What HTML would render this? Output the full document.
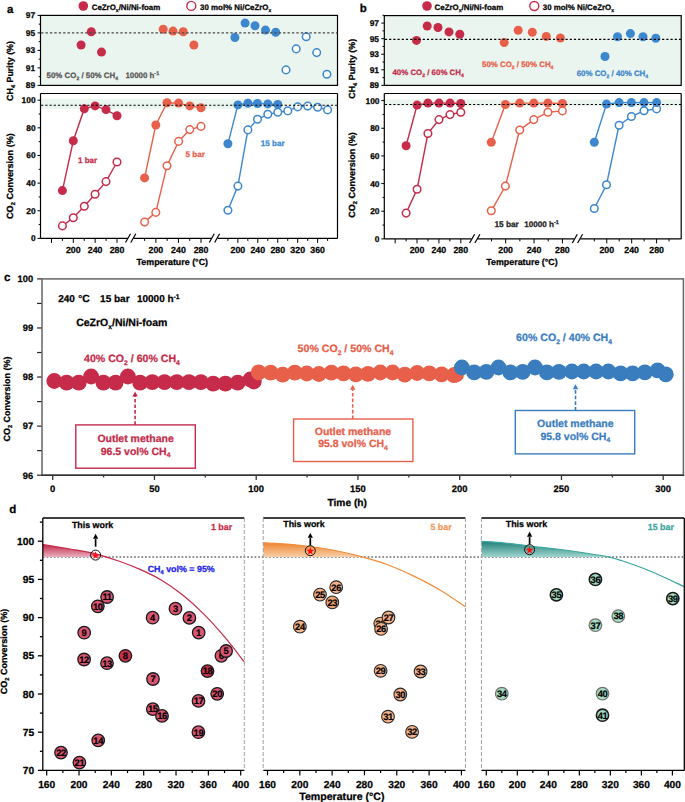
<!DOCTYPE html><html><head><meta charset="utf-8"><style>html,body{margin:0;padding:0;background:#fff;}svg{display:block;}</style></head><body>
<svg width="685" height="802" viewBox="0 0 685 802" font-family="Liberation Sans, sans-serif" font-weight="bold" text-rendering="geometricPrecision">
<rect width="685" height="802" fill="#fff"/>
<rect x="40.5" y="15.4" width="297.0" height="70.0" fill="#ebf5ef"/>
<rect x="40.5" y="98.8" width="297.0" height="10" fill="#ebf5ef"/>
<line x1="37.50" y1="85.40" x2="40.50" y2="85.40" stroke="#000" stroke-width="1" />
<text x="35.10" y="88.40" font-size="8.4" fill="#000" stroke="#000" stroke-width="0.25" text-anchor="end" >89</text>
<line x1="38.70" y1="76.65" x2="40.50" y2="76.65" stroke="#000" stroke-width="1" />
<line x1="37.50" y1="67.90" x2="40.50" y2="67.90" stroke="#000" stroke-width="1" />
<text x="35.10" y="70.90" font-size="8.4" fill="#000" stroke="#000" stroke-width="0.25" text-anchor="end" >91</text>
<line x1="38.70" y1="59.15" x2="40.50" y2="59.15" stroke="#000" stroke-width="1" />
<line x1="37.50" y1="50.40" x2="40.50" y2="50.40" stroke="#000" stroke-width="1" />
<text x="35.10" y="53.40" font-size="8.4" fill="#000" stroke="#000" stroke-width="0.25" text-anchor="end" >93</text>
<line x1="38.70" y1="41.65" x2="40.50" y2="41.65" stroke="#000" stroke-width="1" />
<line x1="37.50" y1="32.90" x2="40.50" y2="32.90" stroke="#000" stroke-width="1" />
<text x="35.10" y="35.90" font-size="8.4" fill="#000" stroke="#000" stroke-width="0.25" text-anchor="end" >95</text>
<line x1="38.70" y1="24.15" x2="40.50" y2="24.15" stroke="#000" stroke-width="1" />
<line x1="37.50" y1="15.40" x2="40.50" y2="15.40" stroke="#000" stroke-width="1" />
<text x="35.10" y="18.40" font-size="8.4" fill="#000" stroke="#000" stroke-width="0.25" text-anchor="end" >97</text>
<line x1="37.50" y1="238.40" x2="40.50" y2="238.40" stroke="#000" stroke-width="1" />
<text x="35.60" y="241.40" font-size="8.4" fill="#000" stroke="#000" stroke-width="0.25" text-anchor="end" >0</text>
<line x1="38.70" y1="224.58" x2="40.50" y2="224.58" stroke="#000" stroke-width="1" />
<line x1="37.50" y1="210.76" x2="40.50" y2="210.76" stroke="#000" stroke-width="1" />
<text x="35.60" y="213.76" font-size="8.4" fill="#000" stroke="#000" stroke-width="0.25" text-anchor="end" >20</text>
<line x1="38.70" y1="196.94" x2="40.50" y2="196.94" stroke="#000" stroke-width="1" />
<line x1="37.50" y1="183.12" x2="40.50" y2="183.12" stroke="#000" stroke-width="1" />
<text x="35.60" y="186.12" font-size="8.4" fill="#000" stroke="#000" stroke-width="0.25" text-anchor="end" >40</text>
<line x1="38.70" y1="169.30" x2="40.50" y2="169.30" stroke="#000" stroke-width="1" />
<line x1="37.50" y1="155.48" x2="40.50" y2="155.48" stroke="#000" stroke-width="1" />
<text x="35.60" y="158.48" font-size="8.4" fill="#000" stroke="#000" stroke-width="0.25" text-anchor="end" >60</text>
<line x1="38.70" y1="141.66" x2="40.50" y2="141.66" stroke="#000" stroke-width="1" />
<line x1="37.50" y1="127.84" x2="40.50" y2="127.84" stroke="#000" stroke-width="1" />
<text x="35.60" y="130.84" font-size="8.4" fill="#000" stroke="#000" stroke-width="0.25" text-anchor="end" >80</text>
<line x1="38.70" y1="114.02" x2="40.50" y2="114.02" stroke="#000" stroke-width="1" />
<line x1="37.50" y1="100.20" x2="40.50" y2="100.20" stroke="#000" stroke-width="1" />
<text x="35.60" y="103.20" font-size="8.4" fill="#000" stroke="#000" stroke-width="0.25" text-anchor="end" >100</text>
<line x1="51.48" y1="238.40" x2="51.48" y2="242.90" stroke="#000" stroke-width="1" />
<line x1="62.40" y1="238.40" x2="62.40" y2="240.90" stroke="#000" stroke-width="1" />
<line x1="73.32" y1="238.40" x2="73.32" y2="242.90" stroke="#000" stroke-width="1" />
<text x="73.32" y="253.10" font-size="8.8" fill="#000" stroke="#000" stroke-width="0.25" text-anchor="middle" >200</text>
<line x1="84.24" y1="238.40" x2="84.24" y2="240.90" stroke="#000" stroke-width="1" />
<line x1="95.16" y1="238.40" x2="95.16" y2="242.90" stroke="#000" stroke-width="1" />
<text x="95.16" y="253.10" font-size="8.8" fill="#000" stroke="#000" stroke-width="0.25" text-anchor="middle" >240</text>
<line x1="106.08" y1="238.40" x2="106.08" y2="240.90" stroke="#000" stroke-width="1" />
<line x1="117.00" y1="238.40" x2="117.00" y2="242.90" stroke="#000" stroke-width="1" />
<text x="117.00" y="253.10" font-size="8.8" fill="#000" stroke="#000" stroke-width="0.25" text-anchor="middle" >280</text>
<line x1="144.60" y1="238.40" x2="144.60" y2="240.90" stroke="#000" stroke-width="1" />
<line x1="155.88" y1="238.40" x2="155.88" y2="242.90" stroke="#000" stroke-width="1" />
<text x="155.88" y="253.10" font-size="8.8" fill="#000" stroke="#000" stroke-width="0.25" text-anchor="middle" >200</text>
<line x1="167.16" y1="238.40" x2="167.16" y2="240.90" stroke="#000" stroke-width="1" />
<line x1="178.44" y1="238.40" x2="178.44" y2="242.90" stroke="#000" stroke-width="1" />
<text x="178.44" y="253.10" font-size="8.8" fill="#000" stroke="#000" stroke-width="0.25" text-anchor="middle" >240</text>
<line x1="189.72" y1="238.40" x2="189.72" y2="240.90" stroke="#000" stroke-width="1" />
<line x1="201.00" y1="238.40" x2="201.00" y2="242.90" stroke="#000" stroke-width="1" />
<text x="201.00" y="253.10" font-size="8.8" fill="#000" stroke="#000" stroke-width="0.25" text-anchor="middle" >280</text>
<line x1="227.90" y1="238.40" x2="227.90" y2="240.90" stroke="#000" stroke-width="1" />
<line x1="237.87" y1="238.40" x2="237.87" y2="242.90" stroke="#000" stroke-width="1" />
<text x="237.87" y="253.10" font-size="8.8" fill="#000" stroke="#000" stroke-width="0.25" text-anchor="middle" >200</text>
<line x1="247.84" y1="238.40" x2="247.84" y2="240.90" stroke="#000" stroke-width="1" />
<line x1="257.81" y1="238.40" x2="257.81" y2="242.90" stroke="#000" stroke-width="1" />
<text x="257.81" y="253.10" font-size="8.8" fill="#000" stroke="#000" stroke-width="0.25" text-anchor="middle" >240</text>
<line x1="267.78" y1="238.40" x2="267.78" y2="240.90" stroke="#000" stroke-width="1" />
<line x1="277.75" y1="238.40" x2="277.75" y2="242.90" stroke="#000" stroke-width="1" />
<text x="277.75" y="253.10" font-size="8.8" fill="#000" stroke="#000" stroke-width="0.25" text-anchor="middle" >280</text>
<line x1="287.72" y1="238.40" x2="287.72" y2="240.90" stroke="#000" stroke-width="1" />
<line x1="297.69" y1="238.40" x2="297.69" y2="242.90" stroke="#000" stroke-width="1" />
<text x="297.69" y="253.10" font-size="8.8" fill="#000" stroke="#000" stroke-width="0.25" text-anchor="middle" >320</text>
<line x1="307.66" y1="238.40" x2="307.66" y2="240.90" stroke="#000" stroke-width="1" />
<line x1="317.63" y1="238.40" x2="317.63" y2="242.90" stroke="#000" stroke-width="1" />
<text x="317.63" y="253.10" font-size="8.8" fill="#000" stroke="#000" stroke-width="0.25" text-anchor="middle" >360</text>
<line x1="327.60" y1="238.40" x2="327.60" y2="240.90" stroke="#000" stroke-width="1" />
<line x1="40.50" y1="238.40" x2="127.60" y2="238.40" stroke="#000" stroke-width="1.2" />
<line x1="133.60" y1="238.40" x2="211.50" y2="238.40" stroke="#000" stroke-width="1.2" />
<line x1="217.50" y1="238.40" x2="337.50" y2="238.40" stroke="#000" stroke-width="1.2" />
<line x1="125.50" y1="242.50" x2="130.50" y2="233.70" stroke="#000" stroke-width="1.2" />
<line x1="130.80" y1="242.50" x2="135.80" y2="233.70" stroke="#000" stroke-width="1.2" />
<line x1="209.30" y1="242.50" x2="214.30" y2="233.70" stroke="#000" stroke-width="1.2" />
<line x1="214.60" y1="242.50" x2="219.60" y2="233.70" stroke="#000" stroke-width="1.2" />
<rect x="40.5" y="15.4" width="297.0" height="70.0" fill="none" stroke="#000" stroke-width="1.2"/>
<line x1="40.50" y1="93.50" x2="337.50" y2="93.50" stroke="#000" stroke-width="1.2" />
<line x1="40.50" y1="93.50" x2="40.50" y2="238.40" stroke="#000" stroke-width="1.2" />
<line x1="337.50" y1="93.50" x2="337.50" y2="238.40" stroke="#000" stroke-width="1.2" />
<circle cx="81.10" cy="45.00" r="4.5" fill="#c62b4a" stroke="none" stroke-width="0"/>
<circle cx="91.30" cy="31.70" r="4.5" fill="#c62b4a" stroke="none" stroke-width="0"/>
<circle cx="101.50" cy="52.10" r="4.5" fill="#c62b4a" stroke="none" stroke-width="0"/>
<circle cx="163.20" cy="29.20" r="4.5" fill="#e8604a" stroke="none" stroke-width="0"/>
<circle cx="173.00" cy="31.10" r="4.5" fill="#e8604a" stroke="none" stroke-width="0"/>
<circle cx="183.20" cy="31.70" r="4.5" fill="#e8604a" stroke="none" stroke-width="0"/>
<circle cx="193.90" cy="45.00" r="4.5" fill="#e8604a" stroke="none" stroke-width="0"/>
<circle cx="234.90" cy="37.50" r="4.5" fill="#3c87cd" stroke="none" stroke-width="0"/>
<circle cx="245.10" cy="23.10" r="4.5" fill="#3c87cd" stroke="none" stroke-width="0"/>
<circle cx="255.00" cy="25.80" r="4.5" fill="#3c87cd" stroke="none" stroke-width="0"/>
<circle cx="265.50" cy="30.10" r="4.5" fill="#3c87cd" stroke="none" stroke-width="0"/>
<circle cx="275.70" cy="32.20" r="4.5" fill="#3c87cd" stroke="none" stroke-width="0"/>
<circle cx="286.00" cy="69.90" r="3.8" fill="#fff" stroke="#3c87cd" stroke-width="1.5"/>
<circle cx="296.20" cy="48.90" r="3.8" fill="#fff" stroke="#3c87cd" stroke-width="1.5"/>
<circle cx="306.20" cy="36.80" r="3.8" fill="#fff" stroke="#3c87cd" stroke-width="1.5"/>
<circle cx="316.70" cy="52.60" r="3.8" fill="#fff" stroke="#3c87cd" stroke-width="1.5"/>
<circle cx="326.90" cy="74.30" r="3.8" fill="#fff" stroke="#3c87cd" stroke-width="1.5"/>
<polyline points="62.40,225.90 73.30,217.70 84.30,206.30 95.10,194.30 106.00,181.60 117.00,162.00" fill="none" stroke="#c62b4a" stroke-width="1.4"/>
<circle cx="62.40" cy="225.90" r="3.8" fill="#fff" stroke="#c62b4a" stroke-width="1.5"/>
<circle cx="73.30" cy="217.70" r="3.8" fill="#fff" stroke="#c62b4a" stroke-width="1.5"/>
<circle cx="84.30" cy="206.30" r="3.8" fill="#fff" stroke="#c62b4a" stroke-width="1.5"/>
<circle cx="95.10" cy="194.30" r="3.8" fill="#fff" stroke="#c62b4a" stroke-width="1.5"/>
<circle cx="106.00" cy="181.60" r="3.8" fill="#fff" stroke="#c62b4a" stroke-width="1.5"/>
<circle cx="117.00" cy="162.00" r="3.8" fill="#fff" stroke="#c62b4a" stroke-width="1.5"/>
<polyline points="62.40,190.60 73.30,140.80 84.30,108.70 95.10,105.90 106.00,109.60 117.00,115.80" fill="none" stroke="#c62b4a" stroke-width="1.4"/>
<circle cx="62.40" cy="190.60" r="4.5" fill="#c62b4a" stroke="none" stroke-width="0"/>
<circle cx="73.30" cy="140.80" r="4.5" fill="#c62b4a" stroke="none" stroke-width="0"/>
<circle cx="84.30" cy="108.70" r="4.5" fill="#c62b4a" stroke="none" stroke-width="0"/>
<circle cx="95.10" cy="105.90" r="4.5" fill="#c62b4a" stroke="none" stroke-width="0"/>
<circle cx="106.00" cy="109.60" r="4.5" fill="#c62b4a" stroke="none" stroke-width="0"/>
<circle cx="117.00" cy="115.80" r="4.5" fill="#c62b4a" stroke="none" stroke-width="0"/>
<polyline points="144.60,222.10 155.80,212.40 167.00,165.70 178.60,141.40 189.80,129.60 201.00,126.40" fill="none" stroke="#e8604a" stroke-width="1.4"/>
<circle cx="144.60" cy="222.10" r="3.8" fill="#fff" stroke="#e8604a" stroke-width="1.5"/>
<circle cx="155.80" cy="212.40" r="3.8" fill="#fff" stroke="#e8604a" stroke-width="1.5"/>
<circle cx="167.00" cy="165.70" r="3.8" fill="#fff" stroke="#e8604a" stroke-width="1.5"/>
<circle cx="178.60" cy="141.40" r="3.8" fill="#fff" stroke="#e8604a" stroke-width="1.5"/>
<circle cx="189.80" cy="129.60" r="3.8" fill="#fff" stroke="#e8604a" stroke-width="1.5"/>
<circle cx="201.00" cy="126.40" r="3.8" fill="#fff" stroke="#e8604a" stroke-width="1.5"/>
<polyline points="144.60,177.90 155.80,125.00 167.00,102.70 178.60,103.10 189.80,105.90 201.00,107.80" fill="none" stroke="#e8604a" stroke-width="1.4"/>
<circle cx="144.60" cy="177.90" r="4.5" fill="#e8604a" stroke="none" stroke-width="0"/>
<circle cx="155.80" cy="125.00" r="4.5" fill="#e8604a" stroke="none" stroke-width="0"/>
<circle cx="167.00" cy="102.70" r="4.5" fill="#e8604a" stroke="none" stroke-width="0"/>
<circle cx="178.60" cy="103.10" r="4.5" fill="#e8604a" stroke="none" stroke-width="0"/>
<circle cx="189.80" cy="105.90" r="4.5" fill="#e8604a" stroke="none" stroke-width="0"/>
<circle cx="201.00" cy="107.80" r="4.5" fill="#e8604a" stroke="none" stroke-width="0"/>
<polyline points="227.90,210.20 237.90,186.10 247.90,129.90 257.50,119.30 267.80,114.30 277.80,112.30 287.80,110.90 297.70,106.90 307.70,106.10 317.70,107.30 327.60,109.90" fill="none" stroke="#3c87cd" stroke-width="1.4"/>
<circle cx="227.90" cy="210.20" r="3.8" fill="#fff" stroke="#3c87cd" stroke-width="1.5"/>
<circle cx="237.90" cy="186.10" r="3.8" fill="#fff" stroke="#3c87cd" stroke-width="1.5"/>
<circle cx="247.90" cy="129.90" r="3.8" fill="#fff" stroke="#3c87cd" stroke-width="1.5"/>
<circle cx="257.50" cy="119.30" r="3.8" fill="#fff" stroke="#3c87cd" stroke-width="1.5"/>
<circle cx="267.80" cy="114.30" r="3.8" fill="#fff" stroke="#3c87cd" stroke-width="1.5"/>
<circle cx="277.80" cy="112.30" r="3.8" fill="#fff" stroke="#3c87cd" stroke-width="1.5"/>
<circle cx="287.80" cy="110.90" r="3.8" fill="#fff" stroke="#3c87cd" stroke-width="1.5"/>
<circle cx="297.70" cy="106.90" r="3.8" fill="#fff" stroke="#3c87cd" stroke-width="1.5"/>
<circle cx="307.70" cy="106.10" r="3.8" fill="#fff" stroke="#3c87cd" stroke-width="1.5"/>
<circle cx="317.70" cy="107.30" r="3.8" fill="#fff" stroke="#3c87cd" stroke-width="1.5"/>
<circle cx="327.60" cy="109.90" r="3.8" fill="#fff" stroke="#3c87cd" stroke-width="1.5"/>
<polyline points="227.90,143.80 237.90,104.90 247.90,103.30 257.50,103.50 267.80,103.90 277.80,104.50" fill="none" stroke="#3c87cd" stroke-width="1.4"/>
<circle cx="227.90" cy="143.80" r="4.5" fill="#3c87cd" stroke="none" stroke-width="0"/>
<circle cx="237.90" cy="104.90" r="4.5" fill="#3c87cd" stroke="none" stroke-width="0"/>
<circle cx="247.90" cy="103.30" r="4.5" fill="#3c87cd" stroke="none" stroke-width="0"/>
<circle cx="257.50" cy="103.50" r="4.5" fill="#3c87cd" stroke="none" stroke-width="0"/>
<circle cx="267.80" cy="103.90" r="4.5" fill="#3c87cd" stroke="none" stroke-width="0"/>
<circle cx="277.80" cy="104.50" r="4.5" fill="#3c87cd" stroke="none" stroke-width="0"/>
<line x1="41.10" y1="32.80" x2="337.50" y2="32.80" stroke="#4a4a4a" stroke-width="1.2" stroke-dasharray="2.4 2"/>
<line x1="41.10" y1="105.30" x2="337.50" y2="105.30" stroke="#000" stroke-width="1.1" stroke-dasharray="2.2 2"/>
<text x="7.00" y="12.60" font-size="11.5" fill="#000" stroke="#000" stroke-width="0.25" text-anchor="start" >a</text>
<circle cx="83.30" cy="6.00" r="4.8" fill="#c62b4a" stroke="none" stroke-width="0"/>
<text x="91.70" y="9.90" font-size="7.9" fill="#000" stroke="#000" stroke-width="0.25" text-anchor="start" >CeZrO<tspan font-size="5.06" dy="2.13">x</tspan><tspan dy="-2.13">/Ni/Ni-foam</tspan></text>
<circle cx="191.30" cy="5.90" r="4.5" fill="#fff" stroke="#c62b4a" stroke-width="1.4"/>
<text x="200.10" y="9.90" font-size="7.9" fill="#000" stroke="#000" stroke-width="0.25" text-anchor="start" >30 mol% Ni/CeZrO<tspan font-size="5.06" dy="2.13">x</tspan><tspan dy="-2.13"></tspan></text>
<text x="46.60" y="77.50" font-size="7.9" fill="#585858" stroke="#585858" stroke-width="0.25" text-anchor="start" >50% CO<tspan font-size="5.06" dy="2.13">2</tspan><tspan dy="-2.13"> / 50% CH<tspan font-size="5.06" dy="2.13">4</tspan><tspan dy="-2.13"></tspan></tspan></text>
<text x="125.40" y="77.50" font-size="7.9" fill="#585858" stroke="#585858" stroke-width="0.25" text-anchor="start" >10000 h<tspan font-size="5.37" dy="-2.77">-1</tspan><tspan dy="2.77"></tspan></text>
<text x="77.90" y="162.50" font-size="8.1" fill="#c62b4a" stroke="#c62b4a" stroke-width="0.25" text-anchor="start" >1 bar</text>
<text x="185.50" y="156.70" font-size="8.1" fill="#e8604a" stroke="#e8604a" stroke-width="0.25" text-anchor="start" >5 bar</text>
<text x="260.80" y="146.40" font-size="8.1" fill="#3c87cd" stroke="#3c87cd" stroke-width="0.25" text-anchor="start" >15 bar</text>
<text transform="translate(13.00,71.00) rotate(-90)" font-size="8.9" fill="#000" stroke="#000" stroke-width="0.25" text-anchor="middle">CH<tspan font-size="5.70" dy="2.40">4</tspan><tspan dy="-2.40"> Purity (%)</tspan></text>
<text transform="translate(12.50,176.10) rotate(-90)" font-size="9.06" fill="#000" stroke="#000" stroke-width="0.25" text-anchor="middle">CO<tspan font-size="5.80" dy="2.45">2</tspan><tspan dy="-2.45"> Conversion (%)</tspan></text>
<text x="172.30" y="264.70" font-size="8.9" fill="#000" stroke="#000" stroke-width="0.25" text-anchor="middle" >Temperature (°C)</text>
<rect x="384.3" y="15.6" width="296.90000000000003" height="69.80000000000001" fill="#ebf5ef"/>
<rect x="384.3" y="99.3" width="296.90000000000003" height="7.3" fill="#ebf5ef"/>
<line x1="381.30" y1="85.40" x2="384.30" y2="85.40" stroke="#000" stroke-width="1" />
<text x="379.00" y="88.40" font-size="8.4" fill="#000" stroke="#000" stroke-width="0.25" text-anchor="end" >89</text>
<line x1="382.50" y1="77.61" x2="384.30" y2="77.61" stroke="#000" stroke-width="1" />
<line x1="381.30" y1="69.82" x2="384.30" y2="69.82" stroke="#000" stroke-width="1" />
<text x="379.00" y="72.82" font-size="8.4" fill="#000" stroke="#000" stroke-width="0.25" text-anchor="end" >91</text>
<line x1="382.50" y1="62.03" x2="384.30" y2="62.03" stroke="#000" stroke-width="1" />
<line x1="381.30" y1="54.24" x2="384.30" y2="54.24" stroke="#000" stroke-width="1" />
<text x="379.00" y="57.24" font-size="8.4" fill="#000" stroke="#000" stroke-width="0.25" text-anchor="end" >93</text>
<line x1="382.50" y1="46.45" x2="384.30" y2="46.45" stroke="#000" stroke-width="1" />
<line x1="381.30" y1="38.66" x2="384.30" y2="38.66" stroke="#000" stroke-width="1" />
<text x="379.00" y="41.66" font-size="8.4" fill="#000" stroke="#000" stroke-width="0.25" text-anchor="end" >95</text>
<line x1="382.50" y1="30.87" x2="384.30" y2="30.87" stroke="#000" stroke-width="1" />
<line x1="381.30" y1="23.08" x2="384.30" y2="23.08" stroke="#000" stroke-width="1" />
<text x="379.00" y="26.08" font-size="8.4" fill="#000" stroke="#000" stroke-width="0.25" text-anchor="end" >97</text>
<line x1="382.50" y1="15.29" x2="384.30" y2="15.29" stroke="#000" stroke-width="1" />
<line x1="381.30" y1="238.90" x2="384.30" y2="238.90" stroke="#000" stroke-width="1" />
<text x="379.50" y="241.90" font-size="8.4" fill="#000" stroke="#000" stroke-width="0.25" text-anchor="end" >0</text>
<line x1="382.50" y1="225.07" x2="384.30" y2="225.07" stroke="#000" stroke-width="1" />
<line x1="381.30" y1="211.24" x2="384.30" y2="211.24" stroke="#000" stroke-width="1" />
<text x="379.50" y="214.24" font-size="8.4" fill="#000" stroke="#000" stroke-width="0.25" text-anchor="end" >20</text>
<line x1="382.50" y1="197.41" x2="384.30" y2="197.41" stroke="#000" stroke-width="1" />
<line x1="381.30" y1="183.58" x2="384.30" y2="183.58" stroke="#000" stroke-width="1" />
<text x="379.50" y="186.58" font-size="8.4" fill="#000" stroke="#000" stroke-width="0.25" text-anchor="end" >40</text>
<line x1="382.50" y1="169.75" x2="384.30" y2="169.75" stroke="#000" stroke-width="1" />
<line x1="381.30" y1="155.92" x2="384.30" y2="155.92" stroke="#000" stroke-width="1" />
<text x="379.50" y="158.92" font-size="8.4" fill="#000" stroke="#000" stroke-width="0.25" text-anchor="end" >60</text>
<line x1="382.50" y1="142.09" x2="384.30" y2="142.09" stroke="#000" stroke-width="1" />
<line x1="381.30" y1="128.26" x2="384.30" y2="128.26" stroke="#000" stroke-width="1" />
<text x="379.50" y="131.26" font-size="8.4" fill="#000" stroke="#000" stroke-width="0.25" text-anchor="end" >80</text>
<line x1="382.50" y1="114.43" x2="384.30" y2="114.43" stroke="#000" stroke-width="1" />
<line x1="381.30" y1="100.60" x2="384.30" y2="100.60" stroke="#000" stroke-width="1" />
<text x="379.50" y="103.60" font-size="8.4" fill="#000" stroke="#000" stroke-width="0.25" text-anchor="end" >100</text>
<line x1="395.16" y1="238.90" x2="395.16" y2="243.40" stroke="#000" stroke-width="1" />
<line x1="406.10" y1="238.90" x2="406.10" y2="241.40" stroke="#000" stroke-width="1" />
<line x1="417.04" y1="238.90" x2="417.04" y2="243.40" stroke="#000" stroke-width="1" />
<text x="417.04" y="252.60" font-size="8.8" fill="#000" stroke="#000" stroke-width="0.25" text-anchor="middle" >200</text>
<line x1="427.98" y1="238.90" x2="427.98" y2="241.40" stroke="#000" stroke-width="1" />
<line x1="438.92" y1="238.90" x2="438.92" y2="243.40" stroke="#000" stroke-width="1" />
<text x="438.92" y="252.60" font-size="8.8" fill="#000" stroke="#000" stroke-width="0.25" text-anchor="middle" >240</text>
<line x1="449.86" y1="238.90" x2="449.86" y2="241.40" stroke="#000" stroke-width="1" />
<line x1="460.80" y1="238.90" x2="460.80" y2="243.40" stroke="#000" stroke-width="1" />
<text x="460.80" y="252.60" font-size="8.8" fill="#000" stroke="#000" stroke-width="0.25" text-anchor="middle" >280</text>
<line x1="491.50" y1="238.90" x2="491.50" y2="241.40" stroke="#000" stroke-width="1" />
<line x1="505.68" y1="238.90" x2="505.68" y2="243.40" stroke="#000" stroke-width="1" />
<text x="505.68" y="252.60" font-size="8.8" fill="#000" stroke="#000" stroke-width="0.25" text-anchor="middle" >200</text>
<line x1="519.86" y1="238.90" x2="519.86" y2="241.40" stroke="#000" stroke-width="1" />
<line x1="534.04" y1="238.90" x2="534.04" y2="243.40" stroke="#000" stroke-width="1" />
<text x="534.04" y="252.60" font-size="8.8" fill="#000" stroke="#000" stroke-width="0.25" text-anchor="middle" >240</text>
<line x1="548.22" y1="238.90" x2="548.22" y2="241.40" stroke="#000" stroke-width="1" />
<line x1="562.40" y1="238.90" x2="562.40" y2="243.40" stroke="#000" stroke-width="1" />
<text x="562.40" y="252.60" font-size="8.8" fill="#000" stroke="#000" stroke-width="0.25" text-anchor="middle" >280</text>
<line x1="594.30" y1="238.90" x2="594.30" y2="241.40" stroke="#000" stroke-width="1" />
<line x1="606.76" y1="238.90" x2="606.76" y2="243.40" stroke="#000" stroke-width="1" />
<text x="606.76" y="252.60" font-size="8.8" fill="#000" stroke="#000" stroke-width="0.25" text-anchor="middle" >200</text>
<line x1="619.22" y1="238.90" x2="619.22" y2="241.40" stroke="#000" stroke-width="1" />
<line x1="631.68" y1="238.90" x2="631.68" y2="243.40" stroke="#000" stroke-width="1" />
<text x="631.68" y="252.60" font-size="8.8" fill="#000" stroke="#000" stroke-width="0.25" text-anchor="middle" >240</text>
<line x1="644.14" y1="238.90" x2="644.14" y2="241.40" stroke="#000" stroke-width="1" />
<line x1="656.60" y1="238.90" x2="656.60" y2="243.40" stroke="#000" stroke-width="1" />
<text x="656.60" y="252.60" font-size="8.8" fill="#000" stroke="#000" stroke-width="0.25" text-anchor="middle" >280</text>
<line x1="669.06" y1="238.90" x2="669.06" y2="241.40" stroke="#000" stroke-width="1" />
<line x1="384.30" y1="238.90" x2="471.50" y2="238.90" stroke="#000" stroke-width="1.2" />
<line x1="477.50" y1="238.90" x2="574.30" y2="238.90" stroke="#000" stroke-width="1.2" />
<line x1="580.30" y1="238.90" x2="681.20" y2="238.90" stroke="#000" stroke-width="1.2" />
<line x1="469.60" y1="243.00" x2="474.60" y2="234.20" stroke="#000" stroke-width="1.2" />
<line x1="474.90" y1="243.00" x2="479.90" y2="234.20" stroke="#000" stroke-width="1.2" />
<line x1="572.30" y1="243.00" x2="577.30" y2="234.20" stroke="#000" stroke-width="1.2" />
<line x1="577.60" y1="243.00" x2="582.60" y2="234.20" stroke="#000" stroke-width="1.2" />
<rect x="384.3" y="15.6" width="296.90000000000003" height="69.80000000000001" fill="none" stroke="#000" stroke-width="1.2"/>
<line x1="384.30" y1="93.50" x2="681.20" y2="93.50" stroke="#000" stroke-width="1.2" />
<line x1="384.30" y1="93.50" x2="384.30" y2="238.90" stroke="#000" stroke-width="1.2" />
<line x1="681.20" y1="93.50" x2="681.20" y2="238.90" stroke="#000" stroke-width="1.2" />
<circle cx="416.50" cy="40.40" r="4.5" fill="#c62b4a" stroke="none" stroke-width="0"/>
<circle cx="427.20" cy="26.00" r="4.5" fill="#c62b4a" stroke="none" stroke-width="0"/>
<circle cx="438.00" cy="27.50" r="4.5" fill="#c62b4a" stroke="none" stroke-width="0"/>
<circle cx="449.00" cy="31.90" r="4.5" fill="#c62b4a" stroke="none" stroke-width="0"/>
<circle cx="459.80" cy="34.20" r="4.5" fill="#c62b4a" stroke="none" stroke-width="0"/>
<circle cx="504.20" cy="42.60" r="4.5" fill="#e8604a" stroke="none" stroke-width="0"/>
<circle cx="518.20" cy="30.30" r="4.5" fill="#e8604a" stroke="none" stroke-width="0"/>
<circle cx="532.30" cy="32.30" r="4.5" fill="#e8604a" stroke="none" stroke-width="0"/>
<circle cx="546.30" cy="36.40" r="4.5" fill="#e8604a" stroke="none" stroke-width="0"/>
<circle cx="560.40" cy="38.00" r="4.5" fill="#e8604a" stroke="none" stroke-width="0"/>
<circle cx="605.00" cy="56.50" r="4.5" fill="#3c87cd" stroke="none" stroke-width="0"/>
<circle cx="617.50" cy="36.70" r="4.5" fill="#3c87cd" stroke="none" stroke-width="0"/>
<circle cx="630.40" cy="33.60" r="4.5" fill="#3c87cd" stroke="none" stroke-width="0"/>
<circle cx="643.00" cy="36.70" r="4.5" fill="#3c87cd" stroke="none" stroke-width="0"/>
<circle cx="655.80" cy="38.30" r="4.5" fill="#3c87cd" stroke="none" stroke-width="0"/>
<polyline points="406.10,213.10 417.10,189.20 427.90,133.50 439.00,119.60 450.00,114.60 460.80,112.20" fill="none" stroke="#c62b4a" stroke-width="1.4"/>
<circle cx="406.10" cy="213.10" r="3.8" fill="#fff" stroke="#c62b4a" stroke-width="1.5"/>
<circle cx="417.10" cy="189.20" r="3.8" fill="#fff" stroke="#c62b4a" stroke-width="1.5"/>
<circle cx="427.90" cy="133.50" r="3.8" fill="#fff" stroke="#c62b4a" stroke-width="1.5"/>
<circle cx="439.00" cy="119.60" r="3.8" fill="#fff" stroke="#c62b4a" stroke-width="1.5"/>
<circle cx="450.00" cy="114.60" r="3.8" fill="#fff" stroke="#c62b4a" stroke-width="1.5"/>
<circle cx="460.80" cy="112.20" r="3.8" fill="#fff" stroke="#c62b4a" stroke-width="1.5"/>
<polyline points="406.10,145.70 417.10,105.10 427.90,103.10 439.00,103.10 450.00,103.10 460.80,103.50" fill="none" stroke="#c62b4a" stroke-width="1.4"/>
<circle cx="406.10" cy="145.70" r="4.5" fill="#c62b4a" stroke="none" stroke-width="0"/>
<circle cx="417.10" cy="105.10" r="4.5" fill="#c62b4a" stroke="none" stroke-width="0"/>
<circle cx="427.90" cy="103.10" r="4.5" fill="#c62b4a" stroke="none" stroke-width="0"/>
<circle cx="439.00" cy="103.10" r="4.5" fill="#c62b4a" stroke="none" stroke-width="0"/>
<circle cx="450.00" cy="103.10" r="4.5" fill="#c62b4a" stroke="none" stroke-width="0"/>
<circle cx="460.80" cy="103.50" r="4.5" fill="#c62b4a" stroke="none" stroke-width="0"/>
<polyline points="491.30,210.80 505.40,186.10 519.70,130.00 533.80,119.60 547.90,112.20 562.40,110.90" fill="none" stroke="#e8604a" stroke-width="1.4"/>
<circle cx="491.30" cy="210.80" r="3.8" fill="#fff" stroke="#e8604a" stroke-width="1.5"/>
<circle cx="505.40" cy="186.10" r="3.8" fill="#fff" stroke="#e8604a" stroke-width="1.5"/>
<circle cx="519.70" cy="130.00" r="3.8" fill="#fff" stroke="#e8604a" stroke-width="1.5"/>
<circle cx="533.80" cy="119.60" r="3.8" fill="#fff" stroke="#e8604a" stroke-width="1.5"/>
<circle cx="547.90" cy="112.20" r="3.8" fill="#fff" stroke="#e8604a" stroke-width="1.5"/>
<circle cx="562.40" cy="110.90" r="3.8" fill="#fff" stroke="#e8604a" stroke-width="1.5"/>
<polyline points="491.30,142.20 505.40,104.50 519.70,103.10 533.80,103.10 547.90,103.10 562.40,103.50" fill="none" stroke="#e8604a" stroke-width="1.4"/>
<circle cx="491.30" cy="142.20" r="4.5" fill="#e8604a" stroke="none" stroke-width="0"/>
<circle cx="505.40" cy="104.50" r="4.5" fill="#e8604a" stroke="none" stroke-width="0"/>
<circle cx="519.70" cy="103.10" r="4.5" fill="#e8604a" stroke="none" stroke-width="0"/>
<circle cx="533.80" cy="103.10" r="4.5" fill="#e8604a" stroke="none" stroke-width="0"/>
<circle cx="547.90" cy="103.10" r="4.5" fill="#e8604a" stroke="none" stroke-width="0"/>
<circle cx="562.40" cy="103.50" r="4.5" fill="#e8604a" stroke="none" stroke-width="0"/>
<polyline points="594.30,208.50 606.50,184.70 619.10,125.20 631.40,116.50 644.00,110.70 656.60,108.90" fill="none" stroke="#3c87cd" stroke-width="1.4"/>
<circle cx="594.30" cy="208.50" r="3.8" fill="#fff" stroke="#3c87cd" stroke-width="1.5"/>
<circle cx="606.50" cy="184.70" r="3.8" fill="#fff" stroke="#3c87cd" stroke-width="1.5"/>
<circle cx="619.10" cy="125.20" r="3.8" fill="#fff" stroke="#3c87cd" stroke-width="1.5"/>
<circle cx="631.40" cy="116.50" r="3.8" fill="#fff" stroke="#3c87cd" stroke-width="1.5"/>
<circle cx="644.00" cy="110.70" r="3.8" fill="#fff" stroke="#3c87cd" stroke-width="1.5"/>
<circle cx="656.60" cy="108.90" r="3.8" fill="#fff" stroke="#3c87cd" stroke-width="1.5"/>
<polyline points="594.30,142.20 606.50,104.10 619.10,102.60 631.40,102.60 644.00,102.60 656.60,102.60" fill="none" stroke="#3c87cd" stroke-width="1.4"/>
<circle cx="594.30" cy="142.20" r="4.5" fill="#3c87cd" stroke="none" stroke-width="0"/>
<circle cx="606.50" cy="104.10" r="4.5" fill="#3c87cd" stroke="none" stroke-width="0"/>
<circle cx="619.10" cy="102.60" r="4.5" fill="#3c87cd" stroke="none" stroke-width="0"/>
<circle cx="631.40" cy="102.60" r="4.5" fill="#3c87cd" stroke="none" stroke-width="0"/>
<circle cx="644.00" cy="102.60" r="4.5" fill="#3c87cd" stroke="none" stroke-width="0"/>
<circle cx="656.60" cy="102.60" r="4.5" fill="#3c87cd" stroke="none" stroke-width="0"/>
<line x1="384.90" y1="39.40" x2="681.20" y2="39.40" stroke="#000" stroke-width="1.1" stroke-dasharray="2.2 2"/>
<line x1="384.90" y1="104.50" x2="681.20" y2="104.50" stroke="#000" stroke-width="1.1" stroke-dasharray="2.2 2"/>
<text x="359.80" y="12.40" font-size="11.5" fill="#000" stroke="#000" stroke-width="0.25" text-anchor="start" >b</text>
<circle cx="427.00" cy="6.00" r="4.8" fill="#c62b4a" stroke="none" stroke-width="0"/>
<text x="434.60" y="9.90" font-size="7.9" fill="#000" stroke="#000" stroke-width="0.25" text-anchor="start" >CeZrO<tspan font-size="5.06" dy="2.13">x</tspan><tspan dy="-2.13">/Ni/Ni-foam</tspan></text>
<circle cx="534.30" cy="6.00" r="4.5" fill="#fff" stroke="#c62b4a" stroke-width="1.4"/>
<text x="542.80" y="9.90" font-size="7.9" fill="#000" stroke="#000" stroke-width="0.25" text-anchor="start" >30 mol% Ni/CeZrO<tspan font-size="5.06" dy="2.13">x</tspan><tspan dy="-2.13"></tspan></text>
<text x="392.40" y="75.20" font-size="7.9" fill="#c62b4a" stroke="#c62b4a" stroke-width="0.25" text-anchor="start" >40% CO<tspan font-size="5.06" dy="2.13">2</tspan><tspan dy="-2.13"> / 60% CH<tspan font-size="5.06" dy="2.13">4</tspan><tspan dy="-2.13"></tspan></tspan></text>
<text x="482.00" y="66.70" font-size="7.9" fill="#e8604a" stroke="#e8604a" stroke-width="0.25" text-anchor="start" >50% CO<tspan font-size="5.06" dy="2.13">2</tspan><tspan dy="-2.13"> / 50% CH<tspan font-size="5.06" dy="2.13">4</tspan><tspan dy="-2.13"></tspan></tspan></text>
<text x="576.70" y="76.30" font-size="7.9" fill="#3c87cd" stroke="#3c87cd" stroke-width="0.25" text-anchor="start" >60% CO<tspan font-size="5.06" dy="2.13">2</tspan><tspan dy="-2.13"> / 40% CH<tspan font-size="5.06" dy="2.13">4</tspan><tspan dy="-2.13"></tspan></tspan></text>
<text x="494.40" y="227.30" font-size="8.3" fill="#222" stroke="#222" stroke-width="0.25" text-anchor="start" >15 bar</text>
<text x="524.20" y="227.30" font-size="8.1" fill="#222" stroke="#222" stroke-width="0.25" text-anchor="start" >10000 h<tspan font-size="5.51" dy="-2.83">-1</tspan><tspan dy="2.83"></tspan></text>
<text transform="translate(354.50,68.80) rotate(-90)" font-size="8.9" fill="#000" stroke="#000" stroke-width="0.25" text-anchor="middle">CH<tspan font-size="5.70" dy="2.40">4</tspan><tspan dy="-2.40"> Purity (%)</tspan></text>
<text transform="translate(354.50,175.00) rotate(-90)" font-size="9.06" fill="#000" stroke="#000" stroke-width="0.25" text-anchor="middle">CO<tspan font-size="5.80" dy="2.45">2</tspan><tspan dy="-2.45"> Conversion (%)</tspan></text>
<text x="522.00" y="264.70" font-size="8.9" fill="#000" stroke="#000" stroke-width="0.25" text-anchor="middle" >Temperature (°C)</text>
<line x1="37.10" y1="475.20" x2="42.00" y2="475.20" stroke="#222" stroke-width="1.2" />
<text x="33.10" y="478.50" font-size="9.3" fill="#000" stroke="#000" stroke-width="0.25" text-anchor="end" >96</text>
<line x1="37.10" y1="450.66" x2="42.00" y2="450.66" stroke="#222" stroke-width="1.2" />
<line x1="37.10" y1="426.12" x2="42.00" y2="426.12" stroke="#222" stroke-width="1.2" />
<text x="33.10" y="429.43" font-size="9.3" fill="#000" stroke="#000" stroke-width="0.25" text-anchor="end" >97</text>
<line x1="37.10" y1="401.59" x2="42.00" y2="401.59" stroke="#222" stroke-width="1.2" />
<line x1="37.10" y1="377.05" x2="42.00" y2="377.05" stroke="#222" stroke-width="1.2" />
<text x="33.10" y="380.35" font-size="9.3" fill="#000" stroke="#000" stroke-width="0.25" text-anchor="end" >98</text>
<line x1="37.10" y1="352.51" x2="42.00" y2="352.51" stroke="#222" stroke-width="1.2" />
<line x1="37.10" y1="327.97" x2="42.00" y2="327.97" stroke="#222" stroke-width="1.2" />
<text x="33.10" y="331.27" font-size="9.3" fill="#000" stroke="#000" stroke-width="0.25" text-anchor="end" >99</text>
<line x1="37.10" y1="303.44" x2="42.00" y2="303.44" stroke="#222" stroke-width="1.2" />
<line x1="37.10" y1="278.90" x2="42.00" y2="278.90" stroke="#222" stroke-width="1.2" />
<text x="33.10" y="282.20" font-size="9.3" fill="#000" stroke="#000" stroke-width="0.25" text-anchor="end" >100</text>
<line x1="52.70" y1="475.20" x2="52.70" y2="480.00" stroke="#333" stroke-width="1.3" />
<text x="52.70" y="491.80" font-size="9.4" fill="#000" stroke="#000" stroke-width="0.25" text-anchor="middle" >0</text>
<line x1="103.58" y1="475.20" x2="103.58" y2="477.50" stroke="#333" stroke-width="1.3" />
<line x1="154.45" y1="475.20" x2="154.45" y2="480.00" stroke="#333" stroke-width="1.3" />
<text x="154.45" y="491.80" font-size="9.4" fill="#000" stroke="#000" stroke-width="0.25" text-anchor="middle" >50</text>
<line x1="205.32" y1="475.20" x2="205.32" y2="477.50" stroke="#333" stroke-width="1.3" />
<line x1="256.20" y1="475.20" x2="256.20" y2="480.00" stroke="#333" stroke-width="1.3" />
<text x="256.20" y="491.80" font-size="9.4" fill="#000" stroke="#000" stroke-width="0.25" text-anchor="middle" >100</text>
<line x1="307.08" y1="475.20" x2="307.08" y2="477.50" stroke="#333" stroke-width="1.3" />
<line x1="357.95" y1="475.20" x2="357.95" y2="480.00" stroke="#333" stroke-width="1.3" />
<text x="357.95" y="491.80" font-size="9.4" fill="#000" stroke="#000" stroke-width="0.25" text-anchor="middle" >150</text>
<line x1="408.82" y1="475.20" x2="408.82" y2="477.50" stroke="#333" stroke-width="1.3" />
<line x1="459.70" y1="475.20" x2="459.70" y2="480.00" stroke="#333" stroke-width="1.3" />
<text x="459.70" y="491.80" font-size="9.4" fill="#000" stroke="#000" stroke-width="0.25" text-anchor="middle" >200</text>
<line x1="510.58" y1="475.20" x2="510.58" y2="477.50" stroke="#333" stroke-width="1.3" />
<line x1="561.45" y1="475.20" x2="561.45" y2="480.00" stroke="#333" stroke-width="1.3" />
<text x="561.45" y="491.80" font-size="9.4" fill="#000" stroke="#000" stroke-width="0.25" text-anchor="middle" >250</text>
<line x1="612.33" y1="475.20" x2="612.33" y2="477.50" stroke="#333" stroke-width="1.3" />
<line x1="663.20" y1="475.20" x2="663.20" y2="480.00" stroke="#333" stroke-width="1.3" />
<text x="663.20" y="491.80" font-size="9.4" fill="#000" stroke="#000" stroke-width="0.25" text-anchor="middle" >300</text>
<rect x="42" y="278.9" width="641.4" height="196.3" fill="none" stroke="#666" stroke-width="1.5"/>
<line x1="41.25" y1="475.20" x2="684.15" y2="475.20" stroke="#333" stroke-width="1.4" />
<text x="4.00" y="280.60" font-size="11.5" fill="#000" stroke="#000" stroke-width="0.25" text-anchor="start" >c</text>
<text transform="translate(9.60,399.00) rotate(-90)" font-size="9" fill="#000" stroke="#000" stroke-width="0.25" text-anchor="middle">CO<tspan font-size="5.76" dy="2.43">2</tspan><tspan dy="-2.43"> Conversion (%)</tspan></text>
<text x="347.20" y="505.80" font-size="10.2" fill="#000" stroke="#000" stroke-width="0.25" text-anchor="middle" >Time (h)</text>
<circle cx="54.30" cy="381.00" r="7.9" fill="#c62b4a" stroke="none" stroke-width="0"/>
<circle cx="66.60" cy="382.60" r="7.9" fill="#c62b4a" stroke="none" stroke-width="0"/>
<circle cx="78.80" cy="382.60" r="7.9" fill="#c62b4a" stroke="none" stroke-width="0"/>
<circle cx="91.10" cy="376.50" r="7.9" fill="#c62b4a" stroke="none" stroke-width="0"/>
<circle cx="103.40" cy="382.60" r="7.9" fill="#c62b4a" stroke="none" stroke-width="0"/>
<circle cx="115.60" cy="382.60" r="7.9" fill="#c62b4a" stroke="none" stroke-width="0"/>
<circle cx="127.90" cy="376.50" r="7.9" fill="#c62b4a" stroke="none" stroke-width="0"/>
<circle cx="140.10" cy="382.60" r="7.9" fill="#c62b4a" stroke="none" stroke-width="0"/>
<circle cx="152.30" cy="382.20" r="7.9" fill="#c62b4a" stroke="none" stroke-width="0"/>
<circle cx="164.50" cy="382.20" r="7.9" fill="#c62b4a" stroke="none" stroke-width="0"/>
<circle cx="176.80" cy="382.20" r="7.9" fill="#c62b4a" stroke="none" stroke-width="0"/>
<circle cx="189.00" cy="382.20" r="7.9" fill="#c62b4a" stroke="none" stroke-width="0"/>
<circle cx="200.90" cy="382.20" r="7.9" fill="#c62b4a" stroke="none" stroke-width="0"/>
<circle cx="213.20" cy="383.60" r="7.9" fill="#c62b4a" stroke="none" stroke-width="0"/>
<circle cx="225.40" cy="383.60" r="7.9" fill="#c62b4a" stroke="none" stroke-width="0"/>
<circle cx="237.70" cy="382.60" r="7.9" fill="#c62b4a" stroke="none" stroke-width="0"/>
<circle cx="250.40" cy="379.50" r="7.9" fill="#c62b4a" stroke="none" stroke-width="0"/>
<circle cx="253.80" cy="381.50" r="7.9" fill="#c62b4a" stroke="none" stroke-width="0"/>
<circle cx="258.70" cy="372.30" r="7.9" fill="#e8604a" stroke="none" stroke-width="0"/>
<circle cx="270.70" cy="372.70" r="7.9" fill="#e8604a" stroke="none" stroke-width="0"/>
<circle cx="282.70" cy="374.60" r="7.9" fill="#e8604a" stroke="none" stroke-width="0"/>
<circle cx="294.80" cy="372.70" r="7.9" fill="#e8604a" stroke="none" stroke-width="0"/>
<circle cx="306.80" cy="373.50" r="7.9" fill="#e8604a" stroke="none" stroke-width="0"/>
<circle cx="318.90" cy="374.00" r="7.9" fill="#e8604a" stroke="none" stroke-width="0"/>
<circle cx="331.40" cy="372.70" r="7.9" fill="#e8604a" stroke="none" stroke-width="0"/>
<circle cx="343.50" cy="373.40" r="7.9" fill="#e8604a" stroke="none" stroke-width="0"/>
<circle cx="355.80" cy="374.30" r="7.9" fill="#e8604a" stroke="none" stroke-width="0"/>
<circle cx="368.00" cy="373.90" r="7.9" fill="#e8604a" stroke="none" stroke-width="0"/>
<circle cx="380.30" cy="372.50" r="7.9" fill="#e8604a" stroke="none" stroke-width="0"/>
<circle cx="392.60" cy="372.50" r="7.9" fill="#e8604a" stroke="none" stroke-width="0"/>
<circle cx="404.80" cy="374.60" r="7.9" fill="#e8604a" stroke="none" stroke-width="0"/>
<circle cx="417.10" cy="373.00" r="7.9" fill="#e8604a" stroke="none" stroke-width="0"/>
<circle cx="429.30" cy="373.40" r="7.9" fill="#e8604a" stroke="none" stroke-width="0"/>
<circle cx="441.60" cy="374.30" r="7.9" fill="#e8604a" stroke="none" stroke-width="0"/>
<circle cx="453.90" cy="375.10" r="7.9" fill="#e8604a" stroke="none" stroke-width="0"/>
<circle cx="456.10" cy="374.50" r="7.9" fill="#e8604a" stroke="none" stroke-width="0"/>
<circle cx="461.90" cy="367.50" r="7.9" fill="#3a7dbf" stroke="none" stroke-width="0"/>
<circle cx="474.20" cy="372.40" r="7.9" fill="#3a7dbf" stroke="none" stroke-width="0"/>
<circle cx="486.40" cy="371.90" r="7.9" fill="#3a7dbf" stroke="none" stroke-width="0"/>
<circle cx="498.50" cy="367.50" r="7.9" fill="#3a7dbf" stroke="none" stroke-width="0"/>
<circle cx="510.40" cy="372.40" r="7.9" fill="#3a7dbf" stroke="none" stroke-width="0"/>
<circle cx="522.70" cy="371.90" r="7.9" fill="#3a7dbf" stroke="none" stroke-width="0"/>
<circle cx="535.00" cy="367.50" r="7.9" fill="#3a7dbf" stroke="none" stroke-width="0"/>
<circle cx="546.90" cy="372.40" r="7.9" fill="#3a7dbf" stroke="none" stroke-width="0"/>
<circle cx="559.00" cy="371.90" r="7.9" fill="#3a7dbf" stroke="none" stroke-width="0"/>
<circle cx="571.90" cy="371.50" r="7.9" fill="#3a7dbf" stroke="none" stroke-width="0"/>
<circle cx="583.70" cy="371.50" r="7.9" fill="#3a7dbf" stroke="none" stroke-width="0"/>
<circle cx="596.10" cy="371.50" r="7.9" fill="#3a7dbf" stroke="none" stroke-width="0"/>
<circle cx="608.40" cy="371.50" r="7.9" fill="#3a7dbf" stroke="none" stroke-width="0"/>
<circle cx="620.60" cy="373.40" r="7.9" fill="#3a7dbf" stroke="none" stroke-width="0"/>
<circle cx="632.60" cy="373.40" r="7.9" fill="#3a7dbf" stroke="none" stroke-width="0"/>
<circle cx="644.90" cy="372.30" r="7.9" fill="#3a7dbf" stroke="none" stroke-width="0"/>
<circle cx="657.60" cy="370.40" r="7.9" fill="#3a7dbf" stroke="none" stroke-width="0"/>
<circle cx="665.80" cy="374.30" r="7.9" fill="#3a7dbf" stroke="none" stroke-width="0"/>
<text x="58.20" y="302.30" font-size="10" fill="#000" stroke="#000" stroke-width="0.25" text-anchor="start" >240</text>
<text x="78.20" y="302.40" font-size="10" fill="#000" stroke="#000" stroke-width="0.25" text-anchor="start" >°</text>
<text x="82.20" y="302.40" font-size="10.4" fill="#000" stroke="#000" stroke-width="0.25" text-anchor="start" >C</text>
<text x="100.10" y="302.30" font-size="10" fill="#000" stroke="#000" stroke-width="0.25" text-anchor="start" >15 bar</text>
<text x="136.90" y="302.30" font-size="10" fill="#000" stroke="#000" stroke-width="0.25" text-anchor="start" >10000 h<tspan font-size="6.80" dy="-3.50">-1</tspan><tspan dy="3.50"></tspan></text>
<text x="76.20" y="325.80" font-size="10.5" fill="#000" stroke="#000" stroke-width="0.25" text-anchor="start" >CeZrO<tspan font-size="6.72" dy="2.83">x</tspan><tspan dy="-2.83">/Ni/Ni-foam</tspan></text>
<text x="84.00" y="361.70" font-size="10.6" fill="#c62b4a" stroke="#c62b4a" stroke-width="0.25" text-anchor="start" >40% CO<tspan font-size="6.78" dy="2.86">2</tspan><tspan dy="-2.86"> / 60% CH<tspan font-size="6.78" dy="2.86">4</tspan><tspan dy="-2.86"></tspan></tspan></text>
<text x="297.60" y="352.40" font-size="10.6" fill="#e8604a" stroke="#e8604a" stroke-width="0.25" text-anchor="start" >50% CO<tspan font-size="6.78" dy="2.86">2</tspan><tspan dy="-2.86"> / 50% CH<tspan font-size="6.78" dy="2.86">4</tspan><tspan dy="-2.86"></tspan></tspan></text>
<text x="516.10" y="341.40" font-size="10.6" fill="#3a7dbf" stroke="#3a7dbf" stroke-width="0.25" text-anchor="start" >60% CO<tspan font-size="6.78" dy="2.86">2</tspan><tspan dy="-2.86"> / 40% CH<tspan font-size="6.78" dy="2.86">4</tspan><tspan dy="-2.86"></tspan></tspan></text>
<rect x="75.8" y="424.9" width="119.50000000000001" height="43.30000000000001" fill="#fff" stroke="#c62b4a" stroke-width="1.4"/>
<line x1="135.10" y1="424.90" x2="135.10" y2="396.10" stroke="#c62b4a" stroke-width="1.6" stroke-dasharray="3.6 2"/>
<path d="M132.40,396.60 L135.10,391.60 L137.80,396.60 Z" fill="#c62b4a"/>
<text x="135.60" y="442.40" font-size="10.5" fill="#c62b4a" stroke="#c62b4a" stroke-width="0.25" text-anchor="middle" >Outlet methane</text>
<text x="135.60" y="454.60" font-size="10.5" fill="#c62b4a" stroke="#c62b4a" stroke-width="0.25" text-anchor="middle" >96.5 vol% CH<tspan font-size="6.72" dy="2.83">4</tspan><tspan dy="-2.83"></tspan></text>
<rect x="293.6" y="419" width="119.29999999999995" height="42.5" fill="#fff" stroke="#e8604a" stroke-width="1.4"/>
<line x1="352.70" y1="419.00" x2="352.70" y2="389.30" stroke="#e8604a" stroke-width="1.6" stroke-dasharray="3.6 2"/>
<path d="M350.00,389.80 L352.70,384.80 L355.40,389.80 Z" fill="#e8604a"/>
<text x="353.00" y="434.70" font-size="10.5" fill="#e8604a" stroke="#e8604a" stroke-width="0.25" text-anchor="middle" >Outlet methane</text>
<text x="353.00" y="447.40" font-size="10.5" fill="#e8604a" stroke="#e8604a" stroke-width="0.25" text-anchor="middle" >95.8 vol% CH<tspan font-size="6.72" dy="2.83">4</tspan><tspan dy="-2.83"></tspan></text>
<rect x="515.3" y="410.5" width="119.40000000000009" height="43.39999999999998" fill="#fff" stroke="#3a7dbf" stroke-width="1.4"/>
<line x1="575.50" y1="410.50" x2="575.50" y2="388.70" stroke="#3a7dbf" stroke-width="1.6" stroke-dasharray="3.6 2"/>
<path d="M572.80,389.20 L575.50,384.20 L578.20,389.20 Z" fill="#3a7dbf"/>
<text x="575.30" y="427.40" font-size="10.5" fill="#3a7dbf" stroke="#3a7dbf" stroke-width="0.25" text-anchor="middle" >Outlet methane</text>
<text x="575.30" y="439.60" font-size="10.5" fill="#3a7dbf" stroke="#3a7dbf" stroke-width="0.25" text-anchor="middle" >95.8 vol% CH<tspan font-size="6.72" dy="2.83">4</tspan><tspan dy="-2.83"></tspan></text>
<text x="9.20" y="513.00" font-size="11.5" fill="#000" stroke="#000" stroke-width="0.25" text-anchor="start" >d</text>
<text transform="translate(7.00,651.50) rotate(-90)" font-size="9.05" fill="#000" stroke="#000" stroke-width="0.25" text-anchor="middle">CO<tspan font-size="5.79" dy="2.44">2</tspan><tspan dy="-2.44"> Conversion (%)</tspan></text>
<line x1="37.90" y1="770.40" x2="42.80" y2="770.40" stroke="#000" stroke-width="1.3" />
<text x="34.30" y="774.00" font-size="10.3" fill="#000" stroke="#000" stroke-width="0.25" text-anchor="end" >70</text>
<line x1="39.90" y1="751.30" x2="42.80" y2="751.30" stroke="#000" stroke-width="1.3" />
<line x1="37.90" y1="732.20" x2="42.80" y2="732.20" stroke="#000" stroke-width="1.3" />
<text x="34.30" y="735.80" font-size="10.3" fill="#000" stroke="#000" stroke-width="0.25" text-anchor="end" >75</text>
<line x1="39.90" y1="713.10" x2="42.80" y2="713.10" stroke="#000" stroke-width="1.3" />
<line x1="37.90" y1="694.00" x2="42.80" y2="694.00" stroke="#000" stroke-width="1.3" />
<text x="34.30" y="697.60" font-size="10.3" fill="#000" stroke="#000" stroke-width="0.25" text-anchor="end" >80</text>
<line x1="39.90" y1="674.90" x2="42.80" y2="674.90" stroke="#000" stroke-width="1.3" />
<line x1="37.90" y1="655.80" x2="42.80" y2="655.80" stroke="#000" stroke-width="1.3" />
<text x="34.30" y="659.40" font-size="10.3" fill="#000" stroke="#000" stroke-width="0.25" text-anchor="end" >85</text>
<line x1="39.90" y1="636.70" x2="42.80" y2="636.70" stroke="#000" stroke-width="1.3" />
<line x1="37.90" y1="617.60" x2="42.80" y2="617.60" stroke="#000" stroke-width="1.3" />
<text x="34.30" y="621.20" font-size="10.3" fill="#000" stroke="#000" stroke-width="0.25" text-anchor="end" >90</text>
<line x1="39.90" y1="598.50" x2="42.80" y2="598.50" stroke="#000" stroke-width="1.3" />
<line x1="37.90" y1="579.40" x2="42.80" y2="579.40" stroke="#000" stroke-width="1.3" />
<text x="34.30" y="583.00" font-size="10.3" fill="#000" stroke="#000" stroke-width="0.25" text-anchor="end" >95</text>
<line x1="39.90" y1="560.30" x2="42.80" y2="560.30" stroke="#000" stroke-width="1.3" />
<line x1="37.90" y1="541.20" x2="42.80" y2="541.20" stroke="#000" stroke-width="1.3" />
<text x="34.30" y="544.80" font-size="10.3" fill="#000" stroke="#000" stroke-width="0.25" text-anchor="end" >100</text>
<line x1="39.90" y1="522.10" x2="42.80" y2="522.10" stroke="#000" stroke-width="1.3" />
<line x1="42.80" y1="557.00" x2="685.00" y2="557.00" stroke="#707070" stroke-width="1.4" stroke-dasharray="1.8 1.85"/>
<defs><linearGradient id="g42" gradientUnits="userSpaceOnUse" x1="0" y1="544.50" x2="0" y2="557.00"><stop offset="0" stop-color="#c2284a"/><stop offset="1" stop-color="#eab0bf"/></linearGradient></defs>
<clipPath id="cg42"><rect x="42.8" y="518" width="201.5" height="39.0"/></clipPath>
<path d="M42.80,544.50 C47.33,545.25 61.18,547.45 70.00,549.00 C78.82,550.55 87.37,551.72 95.70,553.80 C104.03,555.88 112.62,558.90 120.00,561.50 C127.38,564.10 133.13,566.32 140.00,569.40 C146.87,572.48 154.13,575.77 161.20,580.00 C168.27,584.23 175.33,589.15 182.40,594.80 C189.47,600.45 196.53,606.83 203.60,613.90 C210.67,620.97 218.02,629.18 224.80,637.20 C231.58,645.22 241.05,657.87 244.30,662.00 L244.30,518 L42.80,518 Z" fill="none"/>
<path d="M42.80,544.50 C47.33,545.25 61.18,547.45 70.00,549.00 C78.82,550.55 87.37,551.72 95.70,553.80 C104.03,555.88 112.62,558.90 120.00,561.50 C127.38,564.10 133.13,566.32 140.00,569.40 C146.87,572.48 154.13,575.77 161.20,580.00 C168.27,584.23 175.33,589.15 182.40,594.80 C189.47,600.45 196.53,606.83 203.60,613.90 C210.67,620.97 218.02,629.18 224.80,637.20 C231.58,645.22 241.05,657.87 244.30,662.00 L244.30,757.0 L42.80,757.0 Z" fill="url(#g42)" clip-path="url(#cg42)"/>
<path d="M42.80,544.50 C47.33,545.25 61.18,547.45 70.00,549.00 C78.82,550.55 87.37,551.72 95.70,553.80 C104.03,555.88 112.62,558.90 120.00,561.50 C127.38,564.10 133.13,566.32 140.00,569.40 C146.87,572.48 154.13,575.77 161.20,580.00 C168.27,584.23 175.33,589.15 182.40,594.80 C189.47,600.45 196.53,606.83 203.60,613.90 C210.67,620.97 218.02,629.18 224.80,637.20 C231.58,645.22 241.05,657.87 244.30,662.00" fill="none" stroke="#c62b4a" stroke-width="1.2"/>
<line x1="42.80" y1="518.00" x2="244.30" y2="518.00" stroke="#000" stroke-width="1.3" />
<line x1="42.80" y1="770.40" x2="244.30" y2="770.40" stroke="#000" stroke-width="1.3" />
<line x1="42.80" y1="518.00" x2="42.80" y2="770.40" stroke="#000" stroke-width="1.3" />
<line x1="244.30" y1="518.00" x2="244.30" y2="770.40" stroke="#a0a0a0" stroke-width="1.0" stroke-dasharray="4 2"/>
<line x1="46.70" y1="770.40" x2="46.70" y2="775.40" stroke="#000" stroke-width="1.2" />
<text x="46.70" y="787.50" font-size="10.2" fill="#000" stroke="#000" stroke-width="0.25" text-anchor="middle" >160</text>
<line x1="62.87" y1="770.40" x2="62.87" y2="773.10" stroke="#000" stroke-width="1.2" />
<line x1="79.03" y1="770.40" x2="79.03" y2="775.40" stroke="#000" stroke-width="1.2" />
<text x="79.03" y="787.50" font-size="10.2" fill="#000" stroke="#000" stroke-width="0.25" text-anchor="middle" >200</text>
<line x1="95.20" y1="770.40" x2="95.20" y2="773.10" stroke="#000" stroke-width="1.2" />
<line x1="111.36" y1="770.40" x2="111.36" y2="775.40" stroke="#000" stroke-width="1.2" />
<text x="111.36" y="787.50" font-size="10.2" fill="#000" stroke="#000" stroke-width="0.25" text-anchor="middle" >240</text>
<line x1="127.53" y1="770.40" x2="127.53" y2="773.10" stroke="#000" stroke-width="1.2" />
<line x1="143.70" y1="770.40" x2="143.70" y2="775.40" stroke="#000" stroke-width="1.2" />
<text x="143.70" y="787.50" font-size="10.2" fill="#000" stroke="#000" stroke-width="0.25" text-anchor="middle" >280</text>
<line x1="159.86" y1="770.40" x2="159.86" y2="773.10" stroke="#000" stroke-width="1.2" />
<line x1="176.03" y1="770.40" x2="176.03" y2="775.40" stroke="#000" stroke-width="1.2" />
<text x="176.03" y="787.50" font-size="10.2" fill="#000" stroke="#000" stroke-width="0.25" text-anchor="middle" >320</text>
<line x1="192.19" y1="770.40" x2="192.19" y2="773.10" stroke="#000" stroke-width="1.2" />
<line x1="208.36" y1="770.40" x2="208.36" y2="775.40" stroke="#000" stroke-width="1.2" />
<text x="208.36" y="787.50" font-size="10.2" fill="#000" stroke="#000" stroke-width="0.25" text-anchor="middle" >360</text>
<line x1="224.53" y1="770.40" x2="224.53" y2="773.10" stroke="#000" stroke-width="1.2" />
<line x1="240.69" y1="770.40" x2="240.69" y2="775.40" stroke="#000" stroke-width="1.2" />
<text x="240.69" y="787.50" font-size="10.2" fill="#000" stroke="#000" stroke-width="0.25" text-anchor="middle" >400</text>
<circle cx="95.60" cy="555.10" r="5.0" fill="none" stroke="#111" stroke-width="1.0"/>
<polygon points="95.60,551.30 96.63,554.18 99.69,554.27 97.26,556.14 98.13,559.08 95.60,557.35 93.07,559.08 93.94,556.14 91.51,554.27 94.57,554.18" fill="#ff1010"/>
<line x1="95.60" y1="546.70" x2="95.60" y2="539.10" stroke="#000" stroke-width="1.7" />
<path d="M93.00,538.80 L95.60,533.70 L98.20,538.80 Z" fill="#000"/>
<text x="92.60" y="528.40" font-size="8.9" fill="#000" stroke="#000" stroke-width="0.25" text-anchor="middle" >This work</text>
<text x="232.20" y="529.90" font-size="8.9" fill="#c62b4a" stroke="#c62b4a" stroke-width="0.25" text-anchor="end" >1 bar</text>
<circle cx="61.00" cy="752.60" r="6.25" fill="#db5573" stroke="#1a1a1a" stroke-width="1.3"/>
<text x="61.00" y="755.95" font-size="9.4" fill="#000" stroke="#000" stroke-width="0.2" text-anchor="middle" letter-spacing="-0.35">22</text>
<circle cx="79.40" cy="762.60" r="6.25" fill="#db5573" stroke="#1a1a1a" stroke-width="1.3"/>
<text x="79.40" y="765.95" font-size="9.4" fill="#000" stroke="#000" stroke-width="0.2" text-anchor="middle" letter-spacing="-0.35">21</text>
<circle cx="98.20" cy="740.40" r="6.25" fill="#db5573" stroke="#1a1a1a" stroke-width="1.3"/>
<text x="98.20" y="743.75" font-size="9.4" fill="#000" stroke="#000" stroke-width="0.2" text-anchor="middle" letter-spacing="-0.35">14</text>
<circle cx="84.20" cy="632.70" r="6.25" fill="#db5573" stroke="#1a1a1a" stroke-width="1.3"/>
<text x="84.20" y="636.05" font-size="9.4" fill="#000" stroke="#000" stroke-width="0.2" text-anchor="middle" >9</text>
<circle cx="84.10" cy="659.50" r="6.25" fill="#db5573" stroke="#1a1a1a" stroke-width="1.3"/>
<text x="84.10" y="662.85" font-size="9.4" fill="#000" stroke="#000" stroke-width="0.2" text-anchor="middle" letter-spacing="-0.35">12</text>
<circle cx="107.00" cy="663.20" r="6.25" fill="#db5573" stroke="#1a1a1a" stroke-width="1.3"/>
<text x="107.00" y="666.55" font-size="9.4" fill="#000" stroke="#000" stroke-width="0.2" text-anchor="middle" letter-spacing="-0.35">13</text>
<circle cx="97.80" cy="606.30" r="6.25" fill="#db5573" stroke="#1a1a1a" stroke-width="1.3"/>
<text x="97.80" y="609.65" font-size="9.4" fill="#000" stroke="#000" stroke-width="0.2" text-anchor="middle" letter-spacing="-0.35">10</text>
<circle cx="107.10" cy="597.00" r="6.25" fill="#db5573" stroke="#1a1a1a" stroke-width="1.3"/>
<text x="107.10" y="600.35" font-size="9.4" fill="#000" stroke="#000" stroke-width="0.2" text-anchor="middle" letter-spacing="-0.35">11</text>
<circle cx="125.40" cy="655.80" r="6.25" fill="#c8304b" stroke="#1a1a1a" stroke-width="1.3"/>
<text x="125.40" y="659.15" font-size="9.4" fill="#000" stroke="#000" stroke-width="0.2" text-anchor="middle" >8</text>
<circle cx="152.60" cy="617.70" r="6.25" fill="#db5573" stroke="#1a1a1a" stroke-width="1.3"/>
<text x="152.60" y="621.05" font-size="9.4" fill="#000" stroke="#000" stroke-width="0.2" text-anchor="middle" >4</text>
<circle cx="153.00" cy="679.00" r="6.25" fill="#db5573" stroke="#1a1a1a" stroke-width="1.3"/>
<text x="153.00" y="682.35" font-size="9.4" fill="#000" stroke="#000" stroke-width="0.2" text-anchor="middle" >7</text>
<circle cx="152.80" cy="709.10" r="6.25" fill="#db5573" stroke="#1a1a1a" stroke-width="1.3"/>
<text x="152.80" y="712.45" font-size="9.4" fill="#000" stroke="#000" stroke-width="0.2" text-anchor="middle" letter-spacing="-0.35">15</text>
<circle cx="162.00" cy="715.90" r="6.25" fill="#db5573" stroke="#1a1a1a" stroke-width="1.3"/>
<text x="162.00" y="719.25" font-size="9.4" fill="#000" stroke="#000" stroke-width="0.2" text-anchor="middle" letter-spacing="-0.35">16</text>
<circle cx="175.50" cy="608.70" r="6.25" fill="#db5573" stroke="#1a1a1a" stroke-width="1.3"/>
<text x="175.50" y="612.05" font-size="9.4" fill="#000" stroke="#000" stroke-width="0.2" text-anchor="middle" >3</text>
<circle cx="189.40" cy="617.90" r="6.25" fill="#db5573" stroke="#1a1a1a" stroke-width="1.3"/>
<text x="189.40" y="621.25" font-size="9.4" fill="#000" stroke="#000" stroke-width="0.2" text-anchor="middle" >2</text>
<circle cx="198.70" cy="632.60" r="6.25" fill="#db5573" stroke="#1a1a1a" stroke-width="1.3"/>
<text x="198.70" y="635.95" font-size="9.4" fill="#000" stroke="#000" stroke-width="0.2" text-anchor="middle" >1</text>
<circle cx="221.40" cy="655.80" r="6.25" fill="#db5573" stroke="#1a1a1a" stroke-width="1.3"/>
<text x="221.40" y="659.15" font-size="9.4" fill="#000" stroke="#000" stroke-width="0.2" text-anchor="middle" >6</text>
<circle cx="226.10" cy="651.00" r="6.25" fill="#db5573" stroke="#1a1a1a" stroke-width="1.3"/>
<text x="226.10" y="654.35" font-size="9.4" fill="#000" stroke="#000" stroke-width="0.2" text-anchor="middle" >5</text>
<circle cx="207.50" cy="671.10" r="6.25" fill="#c8304b" stroke="#1a1a1a" stroke-width="1.3"/>
<text x="207.50" y="674.45" font-size="9.4" fill="#000" stroke="#000" stroke-width="0.2" text-anchor="middle" letter-spacing="-0.35">18</text>
<circle cx="198.50" cy="700.90" r="6.25" fill="#db5573" stroke="#1a1a1a" stroke-width="1.3"/>
<text x="198.50" y="704.25" font-size="9.4" fill="#000" stroke="#000" stroke-width="0.2" text-anchor="middle" letter-spacing="-0.35">17</text>
<circle cx="217.20" cy="693.80" r="6.25" fill="#db5573" stroke="#1a1a1a" stroke-width="1.3"/>
<text x="217.20" y="697.15" font-size="9.4" fill="#000" stroke="#000" stroke-width="0.2" text-anchor="middle" letter-spacing="-0.35">20</text>
<circle cx="198.40" cy="732.20" r="6.25" fill="#db5573" stroke="#1a1a1a" stroke-width="1.3"/>
<text x="198.40" y="735.55" font-size="9.4" fill="#000" stroke="#000" stroke-width="0.2" text-anchor="middle" letter-spacing="-0.35">19</text>
<text x="147.70" y="571.80" font-size="8.9" fill="#1c1cf0" stroke="#1c1cf0" stroke-width="0.25" text-anchor="start" >CH<tspan font-size="5.70" dy="2.40">4</tspan><tspan dy="-2.40"> vol% = 95%</tspan></text>
<defs><linearGradient id="g263" gradientUnits="userSpaceOnUse" x1="0" y1="542.80" x2="0" y2="557.00"><stop offset="0" stop-color="#ee8530"/><stop offset="1" stop-color="#f9cfa8"/></linearGradient></defs>
<clipPath id="cg263"><rect x="263.2" y="518" width="202.2" height="39.0"/></clipPath>
<path d="M263.20,542.80 C267.67,543.05 282.20,543.68 290.00,544.30 C297.80,544.92 302.50,545.47 310.00,546.50 C317.50,547.53 326.47,548.82 335.00,550.50 C343.53,552.18 352.53,554.27 361.20,556.60 C369.87,558.93 378.32,561.28 387.00,564.50 C395.68,567.72 404.47,571.65 413.30,575.90 C422.13,580.15 431.32,584.85 440.00,590.00 C448.68,595.15 461.17,604.00 465.40,606.80 L465.40,518 L263.20,518 Z" fill="none"/>
<path d="M263.20,542.80 C267.67,543.05 282.20,543.68 290.00,544.30 C297.80,544.92 302.50,545.47 310.00,546.50 C317.50,547.53 326.47,548.82 335.00,550.50 C343.53,552.18 352.53,554.27 361.20,556.60 C369.87,558.93 378.32,561.28 387.00,564.50 C395.68,567.72 404.47,571.65 413.30,575.90 C422.13,580.15 431.32,584.85 440.00,590.00 C448.68,595.15 461.17,604.00 465.40,606.80 L465.40,757.0 L263.20,757.0 Z" fill="url(#g263)" clip-path="url(#cg263)"/>
<path d="M263.20,542.80 C267.67,543.05 282.20,543.68 290.00,544.30 C297.80,544.92 302.50,545.47 310.00,546.50 C317.50,547.53 326.47,548.82 335.00,550.50 C343.53,552.18 352.53,554.27 361.20,556.60 C369.87,558.93 378.32,561.28 387.00,564.50 C395.68,567.72 404.47,571.65 413.30,575.90 C422.13,580.15 431.32,584.85 440.00,590.00 C448.68,595.15 461.17,604.00 465.40,606.80" fill="none" stroke="#f08c3a" stroke-width="1.2"/>
<line x1="263.20" y1="518.00" x2="465.40" y2="518.00" stroke="#000" stroke-width="1.3" />
<line x1="263.20" y1="770.40" x2="465.40" y2="770.40" stroke="#000" stroke-width="1.3" />
<line x1="263.20" y1="518.00" x2="263.20" y2="770.40" stroke="#a0a0a0" stroke-width="1.0" stroke-dasharray="4 2"/>
<line x1="465.40" y1="518.00" x2="465.40" y2="770.40" stroke="#a0a0a0" stroke-width="1.0" stroke-dasharray="4 2"/>
<line x1="267.50" y1="770.40" x2="267.50" y2="775.40" stroke="#000" stroke-width="1.2" />
<text x="267.50" y="787.50" font-size="10.2" fill="#000" stroke="#000" stroke-width="0.25" text-anchor="middle" >160</text>
<line x1="283.66" y1="770.40" x2="283.66" y2="773.10" stroke="#000" stroke-width="1.2" />
<line x1="299.82" y1="770.40" x2="299.82" y2="775.40" stroke="#000" stroke-width="1.2" />
<text x="299.82" y="787.50" font-size="10.2" fill="#000" stroke="#000" stroke-width="0.25" text-anchor="middle" >200</text>
<line x1="315.98" y1="770.40" x2="315.98" y2="773.10" stroke="#000" stroke-width="1.2" />
<line x1="332.14" y1="770.40" x2="332.14" y2="775.40" stroke="#000" stroke-width="1.2" />
<text x="332.14" y="787.50" font-size="10.2" fill="#000" stroke="#000" stroke-width="0.25" text-anchor="middle" >240</text>
<line x1="348.30" y1="770.40" x2="348.30" y2="773.10" stroke="#000" stroke-width="1.2" />
<line x1="364.46" y1="770.40" x2="364.46" y2="775.40" stroke="#000" stroke-width="1.2" />
<text x="364.46" y="787.50" font-size="10.2" fill="#000" stroke="#000" stroke-width="0.25" text-anchor="middle" >280</text>
<line x1="380.62" y1="770.40" x2="380.62" y2="773.10" stroke="#000" stroke-width="1.2" />
<line x1="396.78" y1="770.40" x2="396.78" y2="775.40" stroke="#000" stroke-width="1.2" />
<text x="396.78" y="787.50" font-size="10.2" fill="#000" stroke="#000" stroke-width="0.25" text-anchor="middle" >320</text>
<line x1="412.94" y1="770.40" x2="412.94" y2="773.10" stroke="#000" stroke-width="1.2" />
<line x1="429.10" y1="770.40" x2="429.10" y2="775.40" stroke="#000" stroke-width="1.2" />
<text x="429.10" y="787.50" font-size="10.2" fill="#000" stroke="#000" stroke-width="0.25" text-anchor="middle" >360</text>
<line x1="445.26" y1="770.40" x2="445.26" y2="773.10" stroke="#000" stroke-width="1.2" />
<line x1="461.42" y1="770.40" x2="461.42" y2="775.40" stroke="#000" stroke-width="1.2" />
<text x="461.42" y="787.50" font-size="10.2" fill="#000" stroke="#000" stroke-width="0.25" text-anchor="middle" >400</text>
<circle cx="310.30" cy="550.70" r="5.0" fill="none" stroke="#111" stroke-width="1.0"/>
<polygon points="310.30,546.90 311.33,549.78 314.39,549.87 311.96,551.74 312.83,554.68 310.30,552.95 307.77,554.68 308.64,551.74 306.21,549.87 309.27,549.78" fill="#ff1010"/>
<line x1="310.30" y1="545.50" x2="310.30" y2="538.10" stroke="#000" stroke-width="1.7" />
<path d="M307.70,537.80 L310.30,532.90 L312.90,537.80 Z" fill="#000"/>
<text x="304.00" y="526.90" font-size="8.9" fill="#000" stroke="#000" stroke-width="0.25" text-anchor="middle" >This work</text>
<text x="451.70" y="529.90" font-size="8.9" fill="#f2975a" stroke="#f2975a" stroke-width="0.25" text-anchor="end" >5 bar</text>
<circle cx="299.90" cy="626.70" r="6.3500000000000005" fill="#f6b389" stroke="#2a2a2a" stroke-width="1.1"/>
<text x="299.90" y="630.05" font-size="9.4" fill="#000" stroke="#000" stroke-width="0.2" text-anchor="middle" letter-spacing="-0.35">24</text>
<circle cx="320.00" cy="594.60" r="6.3500000000000005" fill="#f6b389" stroke="#2a2a2a" stroke-width="1.1"/>
<text x="320.00" y="597.95" font-size="9.4" fill="#000" stroke="#000" stroke-width="0.2" text-anchor="middle" letter-spacing="-0.35">25</text>
<circle cx="336.20" cy="587.20" r="6.3500000000000005" fill="#f6b389" stroke="#2a2a2a" stroke-width="1.1"/>
<text x="336.20" y="590.55" font-size="9.4" fill="#000" stroke="#000" stroke-width="0.2" text-anchor="middle" letter-spacing="-0.35">26</text>
<circle cx="332.30" cy="602.40" r="6.3500000000000005" fill="#f2a374" stroke="#2a2a2a" stroke-width="1.1"/>
<text x="332.30" y="605.75" font-size="9.4" fill="#000" stroke="#000" stroke-width="0.2" text-anchor="middle" letter-spacing="-0.35">23</text>
<circle cx="380.30" cy="623.60" r="6.3500000000000005" fill="#f6b389" stroke="#2a2a2a" stroke-width="1.1"/>
<text x="380.30" y="626.95" font-size="9.4" fill="#000" stroke="#000" stroke-width="0.2" text-anchor="middle" letter-spacing="-0.35">28</text>
<circle cx="388.50" cy="617.50" r="6.3500000000000005" fill="#f6b389" stroke="#2a2a2a" stroke-width="1.1"/>
<text x="388.50" y="620.85" font-size="9.4" fill="#000" stroke="#000" stroke-width="0.2" text-anchor="middle" letter-spacing="-0.35">27</text>
<circle cx="380.60" cy="670.80" r="6.3500000000000005" fill="#f6b389" stroke="#2a2a2a" stroke-width="1.1"/>
<text x="380.60" y="674.15" font-size="9.4" fill="#000" stroke="#000" stroke-width="0.2" text-anchor="middle" letter-spacing="-0.35">29</text>
<circle cx="420.60" cy="671.50" r="6.3500000000000005" fill="#f6b389" stroke="#2a2a2a" stroke-width="1.1"/>
<text x="420.60" y="674.85" font-size="9.4" fill="#000" stroke="#000" stroke-width="0.2" text-anchor="middle" letter-spacing="-0.35">33</text>
<circle cx="400.30" cy="694.50" r="6.3500000000000005" fill="#f6b389" stroke="#2a2a2a" stroke-width="1.1"/>
<text x="400.30" y="697.85" font-size="9.4" fill="#000" stroke="#000" stroke-width="0.2" text-anchor="middle" letter-spacing="-0.35">30</text>
<circle cx="388.00" cy="716.70" r="6.3500000000000005" fill="#f6b389" stroke="#2a2a2a" stroke-width="1.1"/>
<text x="388.00" y="720.05" font-size="9.4" fill="#000" stroke="#000" stroke-width="0.2" text-anchor="middle" letter-spacing="-0.35">31</text>
<circle cx="412.10" cy="731.90" r="6.3500000000000005" fill="#f6b389" stroke="#2a2a2a" stroke-width="1.1"/>
<text x="412.10" y="735.25" font-size="9.4" fill="#000" stroke="#000" stroke-width="0.2" text-anchor="middle" letter-spacing="-0.35">32</text>
<circle cx="381.10" cy="628.90" r="6.3500000000000005" fill="#f6b389" stroke="#2a2a2a" stroke-width="1.1"/>
<text x="381.10" y="632.25" font-size="9.4" fill="#000" stroke="#000" stroke-width="0.2" text-anchor="middle" letter-spacing="-0.35">26</text>
<defs><linearGradient id="g481" gradientUnits="userSpaceOnUse" x1="0" y1="541.40" x2="0" y2="557.00"><stop offset="0" stop-color="#1f7f78"/><stop offset="1" stop-color="#9fd5cf"/></linearGradient></defs>
<clipPath id="cg481"><rect x="481.4" y="518" width="202.89999999999998" height="39.0"/></clipPath>
<path d="M481.40,541.40 C485.33,541.67 497.02,542.23 505.00,543.00 C512.98,543.77 520.13,544.92 529.30,546.00 C538.47,547.08 550.72,548.33 560.00,549.50 C569.28,550.67 577.00,551.78 585.00,553.00 C593.00,554.22 602.17,555.62 608.00,556.80 C613.83,557.98 613.00,557.73 620.00,560.10 C627.00,562.47 639.28,566.57 650.00,571.00 C660.72,575.43 678.58,584.08 684.30,586.70 L684.30,518 L481.40,518 Z" fill="none"/>
<path d="M481.40,541.40 C485.33,541.67 497.02,542.23 505.00,543.00 C512.98,543.77 520.13,544.92 529.30,546.00 C538.47,547.08 550.72,548.33 560.00,549.50 C569.28,550.67 577.00,551.78 585.00,553.00 C593.00,554.22 602.17,555.62 608.00,556.80 C613.83,557.98 613.00,557.73 620.00,560.10 C627.00,562.47 639.28,566.57 650.00,571.00 C660.72,575.43 678.58,584.08 684.30,586.70 L684.30,757.0 L481.40,757.0 Z" fill="url(#g481)" clip-path="url(#cg481)"/>
<path d="M481.40,541.40 C485.33,541.67 497.02,542.23 505.00,543.00 C512.98,543.77 520.13,544.92 529.30,546.00 C538.47,547.08 550.72,548.33 560.00,549.50 C569.28,550.67 577.00,551.78 585.00,553.00 C593.00,554.22 602.17,555.62 608.00,556.80 C613.83,557.98 613.00,557.73 620.00,560.10 C627.00,562.47 639.28,566.57 650.00,571.00 C660.72,575.43 678.58,584.08 684.30,586.70" fill="none" stroke="#3aa59e" stroke-width="1.2"/>
<line x1="481.40" y1="518.00" x2="684.30" y2="518.00" stroke="#000" stroke-width="1.3" />
<line x1="481.40" y1="770.40" x2="684.30" y2="770.40" stroke="#000" stroke-width="1.3" />
<line x1="481.40" y1="518.00" x2="481.40" y2="770.40" stroke="#a0a0a0" stroke-width="1.0" stroke-dasharray="4 2"/>
<line x1="684.30" y1="518.00" x2="684.30" y2="770.40" stroke="#000" stroke-width="1.3" />
<line x1="486.30" y1="770.40" x2="486.30" y2="775.40" stroke="#000" stroke-width="1.2" />
<text x="486.30" y="787.50" font-size="10.2" fill="#000" stroke="#000" stroke-width="0.25" text-anchor="middle" >160</text>
<line x1="501.81" y1="770.40" x2="501.81" y2="773.10" stroke="#000" stroke-width="1.2" />
<line x1="517.32" y1="770.40" x2="517.32" y2="775.40" stroke="#000" stroke-width="1.2" />
<text x="517.32" y="787.50" font-size="10.2" fill="#000" stroke="#000" stroke-width="0.25" text-anchor="middle" >200</text>
<line x1="532.82" y1="770.40" x2="532.82" y2="773.10" stroke="#000" stroke-width="1.2" />
<line x1="548.33" y1="770.40" x2="548.33" y2="775.40" stroke="#000" stroke-width="1.2" />
<text x="548.33" y="787.50" font-size="10.2" fill="#000" stroke="#000" stroke-width="0.25" text-anchor="middle" >240</text>
<line x1="563.84" y1="770.40" x2="563.84" y2="773.10" stroke="#000" stroke-width="1.2" />
<line x1="579.35" y1="770.40" x2="579.35" y2="775.40" stroke="#000" stroke-width="1.2" />
<text x="579.35" y="787.50" font-size="10.2" fill="#000" stroke="#000" stroke-width="0.25" text-anchor="middle" >280</text>
<line x1="594.86" y1="770.40" x2="594.86" y2="773.10" stroke="#000" stroke-width="1.2" />
<line x1="610.36" y1="770.40" x2="610.36" y2="775.40" stroke="#000" stroke-width="1.2" />
<text x="610.36" y="787.50" font-size="10.2" fill="#000" stroke="#000" stroke-width="0.25" text-anchor="middle" >320</text>
<line x1="625.87" y1="770.40" x2="625.87" y2="773.10" stroke="#000" stroke-width="1.2" />
<line x1="641.38" y1="770.40" x2="641.38" y2="775.40" stroke="#000" stroke-width="1.2" />
<text x="641.38" y="787.50" font-size="10.2" fill="#000" stroke="#000" stroke-width="0.25" text-anchor="middle" >360</text>
<line x1="656.89" y1="770.40" x2="656.89" y2="773.10" stroke="#000" stroke-width="1.2" />
<line x1="672.40" y1="770.40" x2="672.40" y2="775.40" stroke="#000" stroke-width="1.2" />
<text x="672.40" y="787.50" font-size="10.2" fill="#000" stroke="#000" stroke-width="0.25" text-anchor="middle" >400</text>
<circle cx="529.60" cy="549.70" r="5.0" fill="none" stroke="#111" stroke-width="1.0"/>
<polygon points="529.60,545.90 530.63,548.78 533.69,548.87 531.26,550.74 532.13,553.68 529.60,551.95 527.07,553.68 527.94,550.74 525.51,548.87 528.57,548.78" fill="#ff1010"/>
<line x1="529.60" y1="544.50" x2="529.60" y2="537.10" stroke="#000" stroke-width="1.7" />
<path d="M527.00,536.80 L529.60,531.50 L532.20,536.80 Z" fill="#000"/>
<text x="526.50" y="526.60" font-size="8.9" fill="#000" stroke="#000" stroke-width="0.25" text-anchor="middle" >This work</text>
<text x="673.90" y="529.90" font-size="8.9" fill="#3aa59e" stroke="#3aa59e" stroke-width="0.25" text-anchor="end" >15 bar</text>
<circle cx="501.80" cy="693.70" r="6.300000000000001" fill="#a3dcc2" stroke="#707070" stroke-width="1.2"/>
<text x="501.80" y="697.05" font-size="9.4" fill="#000" stroke="#000" stroke-width="0.2" text-anchor="middle" letter-spacing="-0.35">34</text>
<circle cx="556.40" cy="594.80" r="6.1000000000000005" fill="#a3dcc2" stroke="#1a1a1a" stroke-width="1.6"/>
<text x="556.40" y="598.15" font-size="9.4" fill="#000" stroke="#000" stroke-width="0.2" text-anchor="middle" letter-spacing="-0.35">35</text>
<circle cx="595.40" cy="579.40" r="6.1000000000000005" fill="#a3dcc2" stroke="#1a1a1a" stroke-width="1.6"/>
<text x="595.40" y="582.75" font-size="9.4" fill="#000" stroke="#000" stroke-width="0.2" text-anchor="middle" letter-spacing="-0.35">36</text>
<circle cx="595.40" cy="625.20" r="6.300000000000001" fill="#a3dcc2" stroke="#707070" stroke-width="1.2"/>
<text x="595.40" y="628.55" font-size="9.4" fill="#000" stroke="#000" stroke-width="0.2" text-anchor="middle" letter-spacing="-0.35">37</text>
<circle cx="618.30" cy="616.10" r="6.300000000000001" fill="#a3dcc2" stroke="#707070" stroke-width="1.2"/>
<text x="618.30" y="619.45" font-size="9.4" fill="#000" stroke="#000" stroke-width="0.2" text-anchor="middle" letter-spacing="-0.35">38</text>
<circle cx="672.80" cy="598.60" r="6.1000000000000005" fill="#a3dcc2" stroke="#1a1a1a" stroke-width="1.6"/>
<text x="672.80" y="601.95" font-size="9.4" fill="#000" stroke="#000" stroke-width="0.2" text-anchor="middle" letter-spacing="-0.35">39</text>
<circle cx="602.50" cy="693.70" r="6.300000000000001" fill="#a3dcc2" stroke="#707070" stroke-width="1.2"/>
<text x="602.50" y="697.05" font-size="9.4" fill="#000" stroke="#000" stroke-width="0.2" text-anchor="middle" letter-spacing="-0.35">40</text>
<circle cx="602.50" cy="715.20" r="6.1000000000000005" fill="#a3dcc2" stroke="#1a1a1a" stroke-width="1.6"/>
<text x="602.50" y="718.55" font-size="9.4" fill="#000" stroke="#000" stroke-width="0.2" text-anchor="middle" letter-spacing="-0.35">41</text>
<text x="341.90" y="799.50" font-size="10.6" fill="#000" stroke="#000" stroke-width="0.25" text-anchor="middle" >Temperature (°C)</text>
</svg></body></html>
